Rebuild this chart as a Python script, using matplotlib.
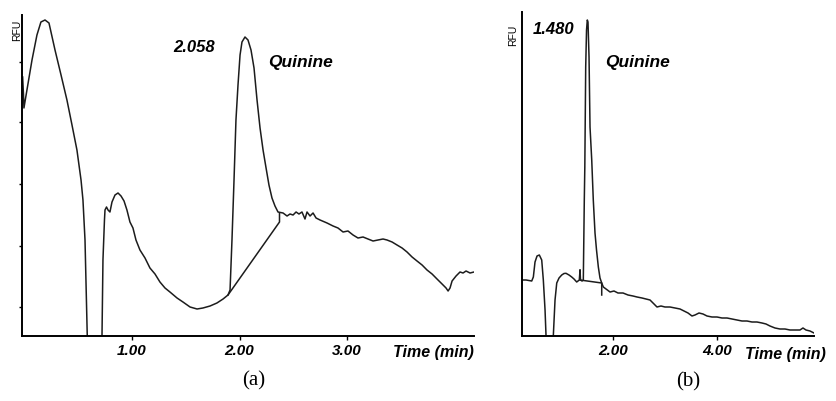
import matplotlib
matplotlib.use("Agg")
import matplotlib.pyplot as plt

# panel (a): chromatogram, time in min, signal in arbitrary RFU units
time_a = [-0.017, -0.009, -0.005, 0.023, 0.07, 0.116, 0.153, 0.191, 0.228, 0.284,
          0.34, 0.395, 0.442, 0.488, 0.526, 0.544, 0.563, 0.584, 0.591, 0.656,
          0.716, 0.721, 0.73, 0.744, 0.749, 0.763, 0.777, 0.795, 0.814, 0.842,
          0.87, 0.898, 0.926, 0.953, 0.981, 1.009, 1.037, 1.074, 1.121, 1.167,
          1.214, 1.26, 1.307, 1.353, 1.419, 1.474, 1.54, 1.605, 1.66, 1.726,
          1.79, 1.847, 1.893, 1.912, 1.93, 1.949, 1.967, 1.986, 2.005, 2.023,
          2.051, 2.079, 2.107, 2.135, 2.163, 2.191, 2.219, 2.247, 2.274, 2.302,
          2.33, 2.358, 2.405, 2.442, 2.47, 2.498, 2.526, 2.553, 2.581, 2.609,
          2.628, 2.656, 2.684, 2.712, 2.749, 2.814, 2.87, 2.916, 2.963, 3.009,
          3.056, 3.102, 3.149, 3.195, 3.242, 3.288, 3.335, 3.372, 3.419, 3.465,
          3.512, 3.558, 3.605, 3.651, 3.698, 3.744, 3.791, 3.837, 3.884, 3.921,
          3.94, 3.958, 3.977, 4.014, 4.051, 4.079, 4.107, 4.144, 4.181]
rfu_a = [259, 241, 228, 246, 276, 301, 314, 316, 313, 286,
         261, 236, 211, 186, 156, 136, 96, 0, -24, -64,
         -24, 0, 76, 116, 126, 129, 126, 124, 134, 141,
         143, 140, 135, 126, 114, 108, 96, 86, 78, 68,
         62, 54, 48, 44, 38, 34, 29, 27, 28, 30,
         33, 37, 41, 46, 96, 156, 216, 251, 281, 294,
         299, 296, 286, 268, 236, 208, 186, 168, 151, 138,
         130, 124, 123, 120, 122, 121, 124, 122, 124, 117,
         124, 120, 123, 118, 116, 113, 110, 108, 104, 105,
         101, 98, 99, 97, 95, 96, 97, 96, 94, 91,
         88, 84, 79, 75, 71, 66, 62, 57, 52, 48,
         45, 48, 55, 60, 64, 63, 65, 63, 64]
base_time_a = [1.893, 2.372, 2.372]
base_rfu_a = [41, 114, 123]

# panel (b)
time_b = [0.238, 0.321, 0.431, 0.462, 0.494, 0.533, 0.577, 0.623, 0.654, 0.687,
          0.706, 0.725, 0.783, 0.831, 0.846, 0.879, 0.912, 0.956, 1.008, 1.052,
          1.09, 1.148, 1.2, 1.244, 1.296, 1.321, 1.346, 1.36, 1.369, 1.398,
          1.423, 1.442, 1.452, 1.469, 1.485, 1.5, 1.513, 1.533, 1.552, 1.585,
          1.615, 1.648, 1.677, 1.712, 1.744, 1.777, 1.808, 1.86, 1.937, 2.013,
          2.09, 2.187, 2.283, 2.379, 2.456, 2.552, 2.629, 2.706, 2.783, 2.84,
          2.917, 2.994, 3.09, 3.187, 3.283, 3.36, 3.437, 3.513, 3.571, 3.648,
          3.725, 3.802, 3.898, 3.994, 4.09, 4.187, 4.283, 4.379, 4.475, 4.571,
          4.667, 4.763, 4.86, 4.937, 5.013, 5.11, 5.206, 5.302, 5.398, 5.494,
          5.59, 5.648, 5.706, 5.783, 5.86]
rfu_b = [56, 56, 55, 59, 74, 80, 81, 76, 56, 26,
         0, -34, -64, -34, 0, 36, 53, 58, 61, 62.5,
         62.7, 61, 59, 57, 54, 55, 56, 66, 56, 55,
         56, 136, 169, 269, 306, 316, 314, 279, 209, 176,
         136, 103, 86, 69, 58, 53, 49, 47, 44, 45,
         43, 43, 41, 40, 39, 38, 37, 36, 32, 29,
         30, 29, 29, 28, 27, 25, 23, 20, 21, 23,
         22, 20, 19, 19, 18, 18, 17, 16, 15, 15,
         14, 14, 13, 12, 10, 8, 7, 7, 6, 6,
         6, 8, 6, 5, 3]
base_time_b = [1.36, 1.36, 1.777, 1.777]
base_rfu_b = [66, 56, 53, 41]

ticks_a = [1.0, 2.0, 3.0]
ticks_b = [2.0, 4.0]
yticks_a = [29, 90, 152, 214, 274]

W, H = 836, 401
fig = plt.figure(figsize=(W / 100, H / 100), dpi=100)
ax_a = fig.add_axes([22 / W, (H - 336) / H, (474 - 22) / W, (336 - 15) / H])
ax_b = fig.add_axes([521.7 / W, (H - 336) / H, (814 - 521.7) / W, (336 - 12) / H])

line_kw = dict(color="#1c1c1c", lw=1.1)
bold_it = dict(family="Liberation Sans", weight="bold", style="italic")

ax_a.plot(time_a, rfu_a, **line_kw)
ax_a.plot(base_time_a, base_rfu_a, **line_kw)
ax_b.plot(time_b, rfu_b, **line_kw)
ax_b.plot(base_time_b, base_rfu_b, **line_kw)

ax_a.set_xlim(-0.023, 4.181)
ax_a.set_ylim(0, 321)
ax_b.set_xlim(0.238, 5.86)
ax_b.set_ylim(0, 324)

for ax, xt in ((ax_a, ticks_a), (ax_b, ticks_b)):
    for s in ("top", "right"):
        ax.spines[s].set_visible(False)
    for s in ("left", "bottom"):
        ax.spines[s].set_linewidth(1.4)
    ax.set_xticks(xt)
    ax.set_xticklabels([f"{v:.2f}" for v in xt], fontsize=11, **bold_it)
    ax.tick_params(axis="x", direction="out", length=3, width=1, pad=3)

ax_a.set_yticks(yticks_a)
ax_a.set_yticklabels([])
ax_a.tick_params(axis="y", direction="out", length=2, width=1)
ax_b.set_yticks([])

ax_a.text(3.428, -16, "Time (min)", fontsize=11.5, ha="left", va="center", clip_on=False, **bold_it)
ax_b.text(4.54, -19, "Time (min)", fontsize=11.5, ha="left", va="center", clip_on=False, **bold_it)

ax_a.text(1.577, 289, "2.058", fontsize=12, ha="center", va="center", **bold_it)
ax_a.text(2.265, 274, "Quinine", fontsize=12.5, ha="left", va="center", **bold_it)
ax_b.text(0.86, 307, "1.480", fontsize=12, ha="center", va="center", **bold_it)
ax_b.text(1.84, 273, "Quinine", fontsize=12.5, ha="left", va="center", **bold_it)

fig.text(17 / W, 1 - 30 / H, "RFU", rotation=90, fontsize=7.5, family="Liberation Sans",
         ha="center", va="center")
fig.text(512.7 / W, 1 - 35 / H, "RFU", rotation=90, fontsize=7.5, family="Liberation Sans",
         ha="center", va="center")

fig.text(254 / W, 1 - 381 / H, "(a)", fontsize=15, family="Liberation Serif", ha="center", va="center")
fig.text(688 / W, 1 - 382 / H, "(b)", fontsize=15, family="Liberation Serif", ha="center", va="center")

fig.savefig("out.png", dpi=100)
